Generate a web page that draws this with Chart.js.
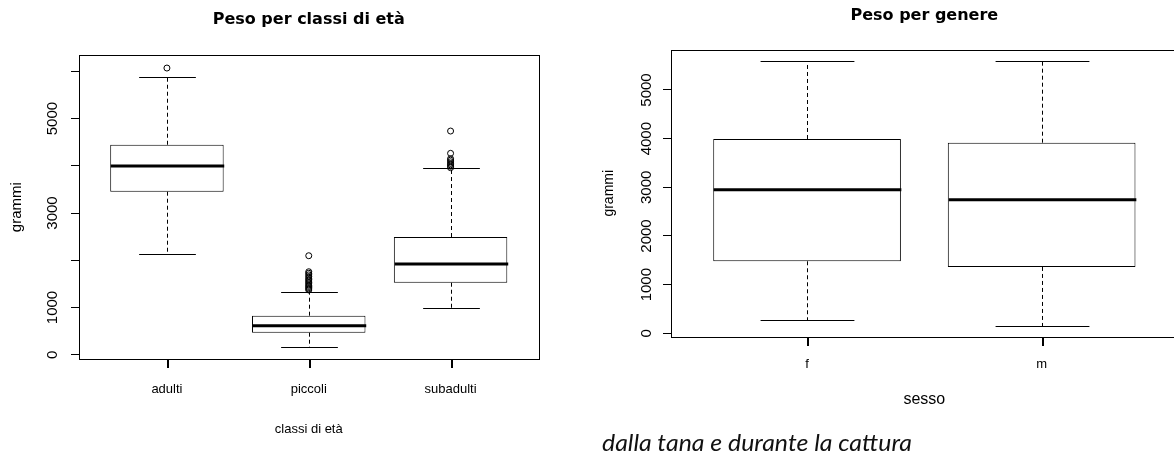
<!DOCTYPE html>
<html><head><meta charset="utf-8">
<script src="https://cdn.jsdelivr.net/npm/chart.js@4.4.1/dist/chart.umd.min.js"></script>
<style>
html,body{margin:0;padding:0;background:#fff;overflow:hidden;width:1174px;height:459px;position:relative;}
#w1{position:absolute;left:0;top:0;width:580px;height:459px;}
#w2{position:absolute;left:580px;top:0;width:610px;height:459px;}
#note{position:absolute;left:602px;top:430px;font-family:Lato,"Open Sans",sans-serif;font-style:italic;font-size:24px;line-height:24px;white-space:nowrap;transform-origin:0 0;color:#111;}
</style></head><body>
<div id="w1"><canvas id="c1" width="580" height="459"></canvas></div>
<div id="w2"><canvas id="c2" width="610" height="459"></canvas></div>
<div id="note">dalla tana e durante la cattura</div>
<script>
// ---- Chart 1: Peso per classi di età ----
const ageClasses = ['adulti', 'piccoli', 'subadulti'];
const ageLower  = [2138, 157, 982];
const ageQ1     = [3451, 466, 1524];
const ageMedian = [3995, 614, 1920];
const ageQ3     = [4446, 826, 2492];
const ageUpper  = [5873, 1321, 3947];
const ageOutliers = [
  [6070],
  [1370, 1395, 1420, 1445, 1470, 1500, 1530, 1560, 1590, 1620, 1655, 1690, 1725, 1757, 2096],
  [3960, 3990, 4020, 4050, 4085, 4120, 4150, 4264, 4736]
];
const ageYTicks  = [0, 1000, 2000, 3000, 4000, 5000, 6000];
const ageYLabels = [0, 1000, 3000, 5000];

// ---- Chart 2: Peso per genere ----
const sexes = ['f', 'm'];
const sexLower  = [267, 157];
const sexQ1     = [1480, 1363];
const sexMedian = [2951, 2746];
const sexQ3     = [3993, 3917];
const sexUpper  = [5596, 5596];
const sexOutliers = [[], []];
const sexYTicks  = [0, 1000, 2000, 3000, 4000, 5000];
const sexYLabels = [0, 1000, 2000, 3000, 4000, 5000];

const SANS = '"Liberation Sans", Arial, sans-serif';

function boxPlugin(stats, yLabels, labelX, labelSize) {
  return {
    id: 'rbox',
    afterDatasetsDraw(chart) {
      const {ctx, scales: {x, y}} = chart;
      ctx.save();
      ctx.strokeStyle = '#000';
      ctx.lineCap = 'butt';
      const ln = (x1, y1, x2, y2) => { ctx.beginPath(); ctx.moveTo(x1, y1); ctx.lineTo(x2, y2); ctx.stroke(); };
      stats.lower.forEach((lo, i) => {
        const xc = Math.round(x.getPixelForValue(i + 1)) + 0.5;
        const hw = x.getPixelForValue(i + 1.4) - x.getPixelForValue(i + 1);
        const cw = hw / 2;
        const yU = Math.round(y.getPixelForValue(stats.upper[i])) + 0.5;
        const yL = Math.round(y.getPixelForValue(lo)) + 0.5;
        const yQ1 = y.getPixelForValue(stats.q1[i]);
        const yQ3 = y.getPixelForValue(stats.q3[i]);
        const yM = y.getPixelForValue(stats.median[i]);
        ctx.lineWidth = 1;
        ctx.setLineDash([4, 3]);
        ln(xc, yQ3, xc, yU);
        ln(xc, yQ1, xc, yL);
        ctx.setLineDash([]);
        ln(xc - cw, yU, xc + cw, yU);
        ln(xc - cw, yL, xc + cw, yL);
        ctx.lineWidth = 3;
        ln(xc - hw, yM, xc + hw, yM);
      });
      ctx.restore();
    },
    afterDraw(chart) {
      const {ctx, chartArea: a, scales: {x, y}} = chart;
      ctx.save();
      ctx.setLineDash([]);
      ctx.strokeStyle = '#000';
      ctx.lineWidth = 1;
      const L = Math.round(a.left), T = Math.round(a.top), R = Math.round(a.right), B = Math.round(a.bottom);
      ctx.strokeRect(L + 0.5, T + 0.5, R - L, B - T);
      ctx.fillStyle = '#000';
      // x-axis tick marks at category positions
      for (let i = 0; i < stats.lower.length; i++) {
        const px = Math.round(x.getPixelForValue(i + 1));
        ctx.fillRect(px, B, 2, 9);
      }
      ctx.font = labelSize + 'px ' + SANS;
      ctx.textAlign = 'center';
      ctx.textBaseline = 'alphabetic';
      yLabels.forEach(v => {
        ctx.save();
        ctx.translate(labelX, y.getPixelForValue(v));
        ctx.rotate(-Math.PI / 2);
        ctx.fillText(String(v), 0, 0);
        ctx.restore();
      });
      ctx.restore();
    }
  };
}

function makeChart(canvasId, o) {
  const boxes = o.cats.map((c, i) => ({x: i + 1, y: [o.q1[i], o.q3[i]]}));
  const outs = [];
  o.outliers.forEach((arr, i) => arr.forEach(v => outs.push({x: i + 1, y: v})));
  const tickPos = o.cats.map((c, i) => i + 1);
  return new Chart(document.getElementById(canvasId), {
    type: 'bar',
    data: {
      datasets: [
        {type: 'bar', data: boxes, backgroundColor: '#fff', borderColor: '#000', borderWidth: 1,
         borderSkipped: false, categoryPercentage: 1, barPercentage: 0.8, order: 2},
        {type: 'scatter', data: outs, pointStyle: 'circle', pointRadius: 3, pointBorderWidth: 1,
         pointBackgroundColor: 'rgba(255,255,255,0)', pointBorderColor: '#000', order: 1}
      ]
    },
    options: {
      responsive: false, animation: false, events: [],
      layout: {padding: {left: 0, right: o.padRight, top: 0, bottom: 0}},
      plugins: {
        legend: {display: false}, tooltip: {enabled: false},
        title: {display: true, text: o.title, fullSize: false, color: '#000',
                font: {family: '"DejaVu Sans", sans-serif', size: 16, weight: 'bold'},
                padding: {top: o.titleTop, bottom: o.titleBottom}}
      },
      scales: {
        x: {
          type: 'linear', offset: false, min: o.xMin, max: o.xMax,
          afterBuildTicks: s => { s.ticks = tickPos.map(v => ({value: v})); },
          afterFit: s => { s.height = 459 - o.bottom; },
          grid: {display: false, offset: false, drawOnChartArea: false, drawTicks: true, tickLength: 8},
          border: {display: false},
          ticks: {callback: v => o.cats[Math.round(v) - 1], autoSkip: false, maxRotation: 0, color: '#000',
                  font: {family: SANS, size: 13}, padding: o.tickPad},
          title: {display: true, text: o.xTitle, color: '#000', font: {family: SANS, size: o.xTitleSize},
                  padding: {top: 0, bottom: o.xTitlePad}}
        },
        y: {
          type: 'linear', min: o.yMin, max: o.yMax,
          afterBuildTicks: s => { s.ticks = o.yTicks.map(v => ({value: v})); },
          afterFit: s => { s.width = o.yWidth; },
          grid: {display: true, offset: false, drawOnChartArea: false, drawTicks: true, tickLength: 8, color: '#000', lineWidth: 1},
          border: {display: false},
          ticks: {display: false},
          title: {display: true, text: 'grammi', color: '#000', font: {family: SANS, size: o.yTitleSize},
                  padding: {top: o.yTitlePad, bottom: 0}}
        }
      }
    },
    plugins: [boxPlugin({lower: o.lower, q1: o.q1, median: o.median, q3: o.q3, upper: o.upper},
                        o.yLabels, o.labelX, 15)]
  });
}

makeChart('c1', {
  cats: ageClasses, lower: ageLower, q1: ageQ1, median: ageMedian, q3: ageQ3, upper: ageUpper,
  outliers: ageOutliers, yTicks: ageYTicks, yLabels: ageYLabels,
  title: 'Peso per classi di età', xTitle: 'classi di età',
  xMin: 0.38, xMax: 3.62,
  yMin: -97, yMax: 6346, bottom: 359.3, yWidth: 79, padRight: 41.5,
  titleTop: 10.4, titleBottom: 25.4, tickPad: 14.4, xTitleSize: 13, xTitlePad: 21.7,
  yTitleSize: 15, yTitlePad: 7.8, labelX: 57
});

makeChart('c2', {
  cats: sexes, lower: sexLower, q1: sexQ1, median: sexMedian, q3: sexQ3, upper: sexUpper,
  outliers: sexOutliers, yTicks: sexYTicks, yLabels: sexYLabels,
  title: 'Peso per genere', xTitle: 'sesso',
  xMin: 0.42, xMax: 2.58,
  yMin: -66, yMax: 5822, bottom: 336.5, yWidth: 91, padRight: 12.3,
  titleTop: 6.1, titleBottom: 24.7, tickPad: 12.2, xTitleSize: 16, xTitlePad: 49.9,
  yTitleSize: 14, yTitlePad: 20.5, labelX: 71
});

const note = document.getElementById('note');
const w = note.getBoundingClientRect().width;
note.style.transform = 'scaleX(' + (310 / w) + ')';
</script>
</body></html>
